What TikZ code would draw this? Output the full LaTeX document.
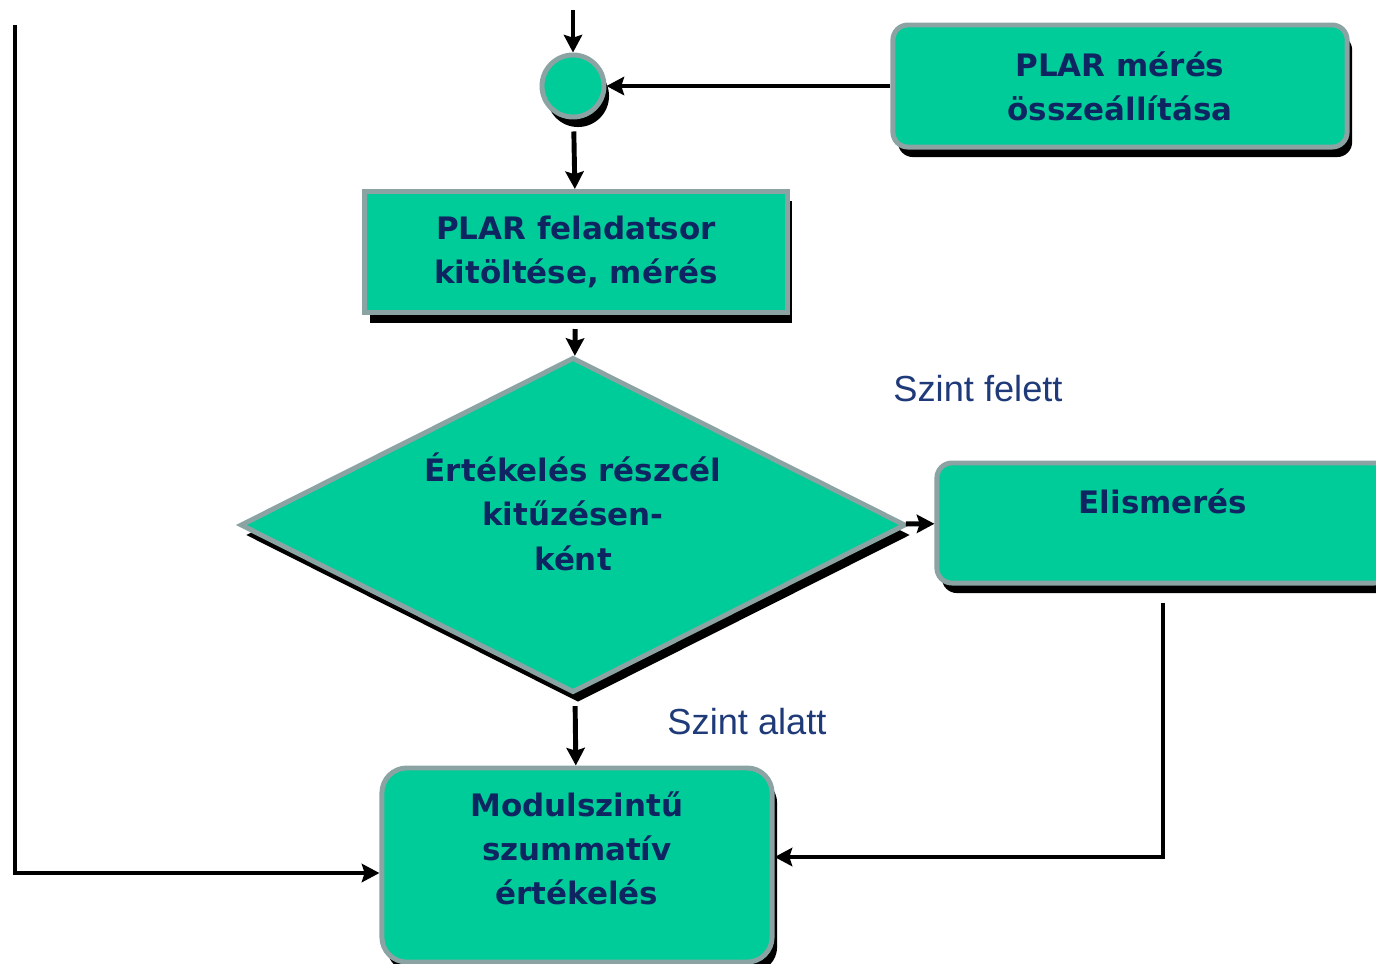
\documentclass[tikz,border=0pt]{standalone}
\usepackage{fontspec}
\setmainfont{DejaVu Sans}
\newfontfamily\lblfont{Liberation Sans}
\usetikzlibrary{arrows.meta,shapes.geometric,shadows}
\definecolor{boxfill}{HTML}{00CC99}
\definecolor{boxline}{HTML}{8BA3A3}
\definecolor{boxtext}{HTML}{0F2561}
\definecolor{lbltext}{HTML}{1F3A78}
\tikzset{
  shade/.style={drop shadow={opacity=1,fill=black,shadow xshift=0.05cm,shadow yshift=-0.1cm}},
  flowbox/.style={draw=boxline,fill=boxfill,line width=1.4pt,shade,text=boxtext,
    font=\fontsize{8.8}{12.6}\selectfont\bfseries,align=center,inner sep=0pt},
  lbl/.style={text=lbltext,font=\lblfont\fontsize{10.3}{12}\selectfont}
}
\begin{document}
\begin{tikzpicture}[x=0.01cm,y=-0.01cm,>={Stealth[length=5pt,width=5.2pt,inset=0.8pt]},line width=1.4pt]
  \clip (0,0) rectangle (1376,963);
                \node[flowbox,circle,minimum size=0.62cm]            (circ) at (573,86)  {};
                \node[flowbox,rounded corners=0.15cm,minimum width=4.54cm,minimum height=1.22cm]
                                                                     (mer)  at (1120,86) {PLAR mérés\\összeállítása};
                \node[flowbox,minimum width=4.22cm,minimum height=1.21cm]
                                                                     (fel)  at (576,252) {PLAR feladatsor\\kitöltése, mérés};
                \node[flowbox,diamond,aspect=2,minimum width=6.65cm,minimum height=3.35cm]
                                                                     (dia)  at (573,525) {Értékelés részcél\\kitűzésen-\\ként\\[-5pt]~};
                \node[flowbox,rounded corners=0.15cm,minimum width=4.52cm,minimum height=1.2cm]
                                                                     (elis) at (1163,523) {Elismerés\\~};
                \node[flowbox,rounded corners=0.25cm,minimum width=3.9cm,minimum height=1.94cm]
                                                                     (mod)  at (577,865) {Modulszintű\\szummatív\\értékelés\\[-3pt]~};

                \node[lbl] (felett) at (978,389) {Szint felett};
                \node[lbl] (alatt)  at (747,722) {Szint alatt};

                \coordinate (top) at (573,10);
                \coordinate (lt)  at (15,25);

                    \path[->] (top) edge (circ)
                              (mer) edge (circ)
                              (circ) edge [shorten <=0.12cm] (fel)
                              (fel) edge [shorten <=0.14cm] (dia)
                              (dia) edge (elis)
                              (dia) edge [shorten <=0.12cm] (mod);
                    \draw[->] ([yshift=-0.17cm]elis.south) |- ([yshift=0.08cm]mod.east);
                    \draw[->] (lt) |- ([yshift=-0.08cm]mod.west);
\end{tikzpicture}
\end{document}
